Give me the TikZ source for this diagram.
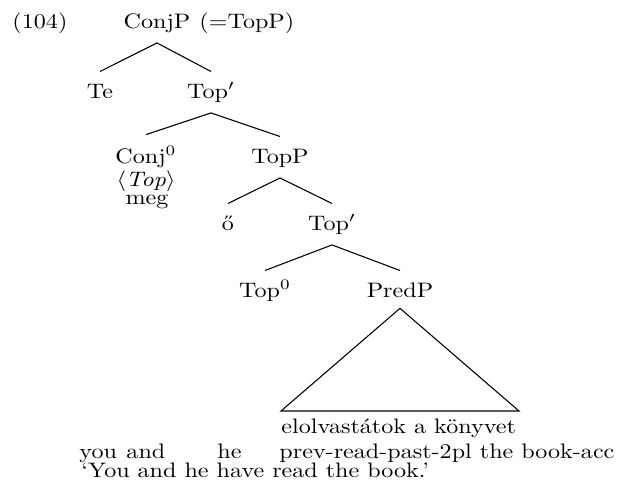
\documentclass[tikz,border=0pt]{standalone}
\usepackage{fontspec}
\usepackage{graphicx}
\newcommand\vs[1]{\scalebox{1}[0.87]{#1}}
\begin{document}
\begin{tikzpicture}[x=0.415pt,y=-0.415pt,
  tn/.style={anchor=base,text height=6.5pt,text depth=1.7pt,inner xsep=0pt,inner ysep=4.3pt},
  tx/.style={anchor=base west,inner sep=0pt},
  edge/.style={line width=0.45pt}]
\useasboundingbox (0,0) rectangle (621,491);
% example number
\node[tx] (num) at (12,28) {\vs{(104)}};
% tree nodes
\node[tn] (conjp) at (157,28) {\vs{ConjP}};
\node[tx] (eq) at (199,28) {\vs{(=TopP)}};
\node[tn] (te) at (100,98) {\vs{Te}};
\node[tn] (topbar1) at (211,98) {\vs{Top$'$}};
\node[tx,anchor=base] (conj) at (146,163) {\vs{\raisebox{0pt}[\height][0pt]{Conj$^0$}}};
\node[tx,anchor=base] (conjb) at (146,186) {\vs{\raisebox{0pt}[0.8\height][\depth]{$\langle$\textit{Top}$\rangle$}}};
\node[tx,anchor=base] (conjc) at (147,204) {\vs{meg}};
\node[tn] (topp) at (280,163) {\vs{TopP}};
\node[tn] (o) at (228,230) {\vs{ő}};
\node[tn] (topbar2) at (332,230) {\vs{Top$'$}};
\node[tn] (top0) at (265,297) {\vs{Top$^0$}};
\node[tn] (predp) at (400,297) {\vs{PredP}};
% branches
\draw[edge] (conjp.south) -- (te.north);
\draw[edge] (conjp.south) -- (topbar1.north);
\draw[edge] (topbar1.south) -- ([yshift=4.5pt]conj.north);
\draw[edge] (topbar1.south) -- (topp.north);
\draw[edge] (topp.south) -- (o.north);
\draw[edge] (topp.south) -- (topbar2.north);
\draw[edge] (topbar2.south) -- (top0.north);
\draw[edge] (topbar2.south) -- (predp.north);
% triangle
\coordinate (tl) at (281,411);
\coordinate (tr) at (519,411);
\draw[edge] ([yshift=1.5pt]predp.south) -- (tl) -- (tr) -- cycle;
% terminal string and gloss
\node[tx] (hu) at (281,433) {\vs{elolvastátok a könyvet}};
\node[tx] (g1) at (79,458) {\vs{you}};
\node[tx] (g2) at (126,458) {\vs{and}};
\node[tx] (g3) at (217,458) {\vs{he}};
\node[tx] (g4) at (279,458) {\vs{prev-read-past-2pl the book-acc}};
\node[tx] (tr1) at (81,477) {\vs{‘You and he have read the book.’}};
\end{tikzpicture}
\end{document}
